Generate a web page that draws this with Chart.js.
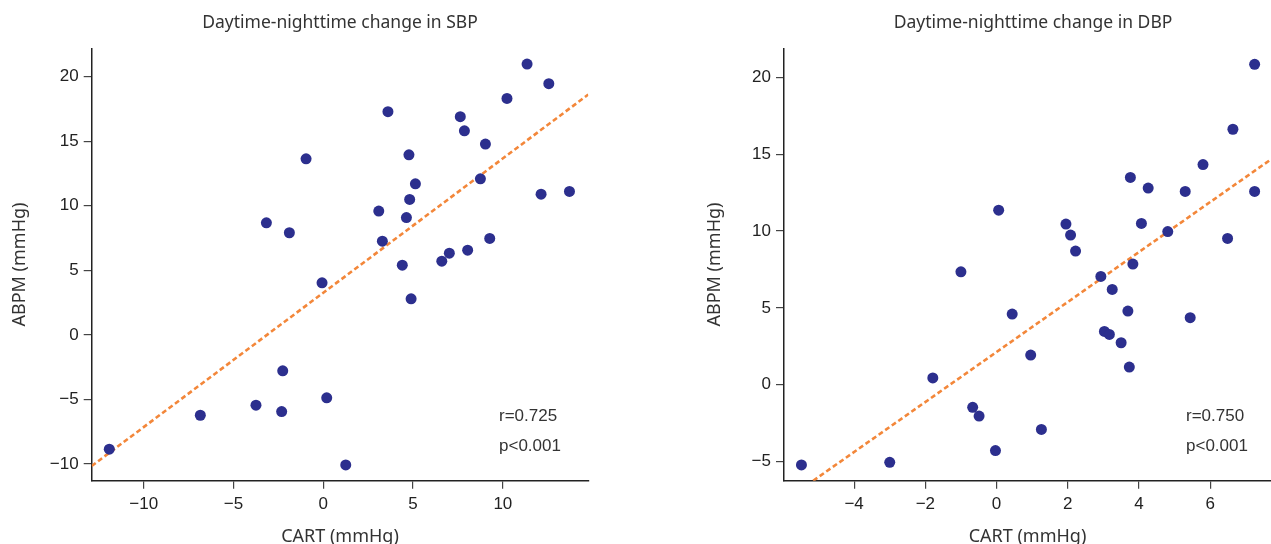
<!DOCTYPE html>
<html>
<head>
<meta charset="utf-8">
<title>Daytime-nighttime change</title>
<script src="https://cdn.jsdelivr.net/npm/chart.js@4.4.1/dist/chart.umd.min.js"></script>
<style>
    body { margin: 0; background: #fff; }
    #wrap { position: relative; width: 1271px; height: 544px; overflow: hidden; }
    canvas { position: absolute; top: 0; }
</style>
</head>
<body>
<div id="wrap">
    <canvas id="sbpChart" width="640" height="544" style="left:0"></canvas>
    <canvas id="dbpChart" width="631" height="544" style="left:640px"></canvas>
</div>
<script>
// SBP panel
const sbpCart = [11.35, 12.56, 10.23, 3.60, 7.63, 7.86, 9.03, -0.96, 4.77, 5.13, 8.75, 12.13, 13.71, 4.81, 3.09, 4.63, -3.17, -1.89, 3.29, 9.27, 8.04, 7.02, 6.60, 4.40, -0.07, 4.89, -2.26, 0.19, -3.75, -2.32, -6.85, -11.92, 1.25];
const sbpAbpm = [20.98, 19.46, 18.32, 17.29, 16.90, 15.81, 14.78, 13.64, 13.95, 11.70, 12.09, 10.90, 11.11, 10.49, 9.59, 9.09, 8.68, 7.91, 7.26, 7.47, 6.56, 6.33, 5.71, 5.40, 4.03, 2.79, -2.79, -4.88, -5.45, -5.94, -6.23, -8.86, -10.08];
const sbpFitX = [-12.9, 14.76];
const sbpFitY = [-10.16, 18.62];
const sbpXTicks = [-10, -5, 0, 5, 10];
const sbpYTicks = [-10, -5, 0, 5, 10, 15, 20];
const sbpStats = ["r=0.725", "p<0.001"];

// DBP panel
const dbpCart = [7.25, 6.64, 5.80, 3.76, 4.26, 5.30, 7.25, 0.06, 1.95, 4.07, 4.81, 2.08, 6.49, 2.22, 3.83, -1.00, 2.93, 3.25, 3.69, 0.44, 5.44, 3.03, 3.17, 3.50, 0.96, 3.73, -1.79, -0.67, -0.49, 1.26, -0.03, -3.00, -5.48];
const dbpAbpm = [20.86, 16.63, 14.33, 13.49, 12.80, 12.58, 12.58, 11.36, 10.46, 10.50, 9.97, 9.74, 9.52, 8.70, 7.85, 7.35, 7.05, 6.20, 4.79, 4.60, 4.36, 3.47, 3.27, 2.73, 1.93, 1.15, 0.44, -1.47, -2.04, -2.91, -4.29, -5.05, -5.22];
const dbpFitX = [-5.15, 7.71];
const dbpFitY = [-6.25, 14.67];
const dbpXTicks = [-4, -2, 0, 2, 4, 6];
const dbpYTicks = [-5, 0, 5, 10, 15, 20];
const dbpStats = ["r=0.750", "p<0.001"];

const POINT_COLOR = "#2c2f8e";
const FIT_COLOR = "#f3873a";
const TEXT_FONT = "'Noto Sans', sans-serif";
const TICK_FONT = "'Liberation Sans', Arial, sans-serif";

const panelText = {
    id: "panelText",
    afterDraw(chart, args, opts) {
        const { ctx, chartArea } = chart;
        ctx.save();
        ctx.fillStyle = "#333";
        ctx.textBaseline = "middle";
        ctx.textAlign = "center";
        ctx.font = `17.5px ${TEXT_FONT}`;
        ctx.fillText(opts.title, (chartArea.left + chartArea.right) / 2 + opts.titleShift, 23);

        ctx.textAlign = "left";
        ctx.font = `17px ${TICK_FONT}`;
        opts.stats.forEach((line, i) => {
            ctx.fillText(line, opts.statsX, chartArea.bottom - 64 + i * 30);
        });
        ctx.restore();
    }
};

function minusSign(value) {
    return String(value).replace("-", "\u2212");
}

function toPoints(xs, ys) {
    return xs.map((x, i) => ({ x: x, y: ys[i] }));
}

function axisOptions(min, max, ticks, title, fit, titlePadding, lineHeight) {
    return {
        type: "linear",
        min: min,
        max: max,
        afterBuildTicks: scale => { scale.ticks = ticks.map(v => ({ value: v })); },
        afterFit: fit,
        border: { display: true, color: "#222", width: 1.5 },
        grid: { drawOnChartArea: false, drawTicks: true, tickLength: 8, color: "#444", lineWidth: 1.2 },
        ticks: {
            color: "#222",
            padding: 5,
            font: { family: TICK_FONT, size: 17 },
            callback: value => minusSign(value)
        },
        title: {
            display: true,
            text: title,
            color: "#333",
            padding: titlePadding,
            font: { family: TEXT_FONT, size: 18, lineHeight: lineHeight }
        }
    };
}

function makePanel(id, cfg) {
    const ctx = document.getElementById(id);
    return new Chart(ctx, {
        type: "scatter",
        data: {
            datasets: [
                {
                    data: toPoints(cfg.x, cfg.y),
                    backgroundColor: POINT_COLOR,
                    borderColor: POINT_COLOR,
                    borderWidth: 0,
                    pointRadius: 5.5,
                    order: 1
                },
                {
                    data: toPoints(cfg.fitX, cfg.fitY),
                    showLine: true,
                    borderColor: FIT_COLOR,
                    borderWidth: 2.6,
                    borderDash: [5, 3],
                    pointRadius: 0,
                    order: 2
                }
            ]
        },
        options: {
            responsive: false,
            animation: false,
            layout: { autoPadding: false, padding: { top: 48.3, right: cfg.padRight, left: 0, bottom: 0 } },
            plugins: {
                legend: { display: false },
                tooltip: { enabled: false },
                panelText: { title: cfg.title, titleShift: cfg.titleShift, stats: cfg.stats, statsX: cfg.statsX }
            },
            scales: {
                x: axisOptions(cfg.xMin, cfg.xMax, cfg.xTicks, "CART (mmHg)",
                    scale => { scale.height = 63.3; }, { top: 0, bottom: 0 }, 0.8),
                y: axisOptions(cfg.yMin, cfg.yMax, cfg.yTicks, "ABPM (mmHg)",
                    scale => { scale.width = cfg.yWidth; }, { top: cfg.yTitlePad, bottom: 0 }, 1.1)
            }
        },
        plugins: [panelText]
    });
}

makePanel("sbpChart", {
    x: sbpCart, y: sbpAbpm, fitX: sbpFitX, fitY: sbpFitY,
    xMin: -12.9, xMax: 14.76, yMin: -11.3, yMax: 22.2,
    xTicks: sbpXTicks, yTicks: sbpYTicks,
    title: "Daytime-nighttime change in SBP", titleShift: 0,
    stats: sbpStats, statsX: 499,
    yWidth: 91.7, yTitlePad: 9.6, padRight: 51.7
});

makePanel("dbpChart", {
    x: dbpCart, y: dbpAbpm, fitX: dbpFitX, fitY: dbpFitY,
    xMin: -5.97, xMax: 7.71, yMin: -6.25, yMax: 21.9,
    xTicks: dbpXTicks, yTicks: dbpYTicks,
    title: "Daytime-nighttime change in DBP", titleShift: 5.5,
    stats: dbpStats, statsX: 546,
    yWidth: 144, yTitlePad: 65, padRight: 0
});
</script>
</body>
</html>
